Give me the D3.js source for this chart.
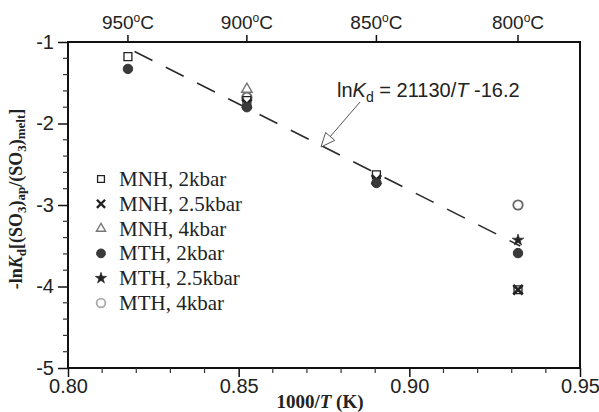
<!DOCTYPE html>
<html>
<head>
<meta charset="utf-8">
<script src="https://cdn.jsdelivr.net/npm/d3@7"></script>
<style>
  html, body { margin: 0; padding: 0; background: #fff; }
  svg { display: block; }
  .sans { font-family: Arial, "Liberation Sans", sans-serif; }
  .serif { font-family: "Times New Roman", "Liberation Serif", serif; }
</style>
</head>
<body>
<svg id="chart" width="599" height="412"></svg>
<script>
// Run temperatures (°C) and the -lnKd values measured at each one
const tempsC = [950, 900, 850, 800];
const seriesNames = ["MNH, 2kbar", "MNH, 2.5kbar", "MNH, 4kbar", "MTH, 2kbar", "MTH, 2.5kbar", "MTH, 4kbar"];
// values listed per series, aligned with tempsC (null = no run)
const mnh2kbar   = [-1.18, -1.72, -2.63, -4.04];
const mnh25kbar  = [null, -1.76, -2.69, -4.04];
const mnh4kbar   = [null, -1.58, null, null];
const mth2kbar   = [-1.33, -1.80, -2.73, -3.59];
const mth25kbar  = [null, null, null, -3.43];
const mth4kbar   = [null, -1.68, null, -3.00];
const seriesValues = [mnh2kbar, mnh25kbar, mnh4kbar, mth2kbar, mth25kbar, mth4kbar];

// Axis ticks
const xTicks = [0.80, 0.85, 0.90, 0.95];
const yTicks = [-5, -4, -3, -2, -1];

// Regression: lnKd = 21130/T - 16.2, drawn over the 1000/T span of the runs
const fitA = 21130, fitB = -16.2;
const fitSpan = [0.8195, 0.9325];

const svg = d3.select("#chart");
const x = d3.scaleLinear().domain([0.80, 0.95]).range([68, 580]);
const y = d3.scaleLinear().domain([-5, -1]).range([368, 42]);
const invT = c => 1000 / (c + 273.15);

// Dashed regression line
const fitPts = fitSpan.map(v => [v, -(fitA / (1000 / v) + fitB)]);
svg.append("path")
  .attr("d", d3.line().x(d => x(d[0])).y(d => y(d[1]))(fitPts))
  .attr("fill", "none").attr("stroke", "#2a2a2a").attr("stroke-width", 1.6)
  .attr("stroke-dasharray", "20,15");

// Marker styles for each series
const styles = [
  { sym: d3.symbolSquare2, size: 80, fill: "#fff", stroke: "#222", sw: 1.3 },
  { sym: d3.symbolTimes, size: 60, fill: "none", stroke: "#222", sw: 2.6 },
  { sym: d3.symbolTriangle2, size: 80, fill: "#fff", stroke: "#777", sw: 1.4 },
  { sym: d3.symbolCircle, size: 70, fill: "#3a3a3a", stroke: "#333", sw: 1 },
  { sym: d3.symbolStar, size: 42, fill: "#222", stroke: "#222", sw: 0.6 },
  { sym: d3.symbolCircle, size: 70, fill: "#fff", stroke: "#666", sw: 1.8 }
];

const plotOrder = [5, 2, 0, 1, 3, 4];
plotOrder.forEach(si => {
  const st = styles[si];
  const pts = tempsC.map((c, i) => ({ t: invT(c), v: seriesValues[si][i] })).filter(d => d.v !== null);
  svg.append("g").selectAll("path").data(pts).join("path")
    .attr("transform", d => `translate(${x(d.t)},${y(d.v)})`)
    .attr("d", d3.symbol(st.sym, st.size))
    .attr("fill", st.fill).attr("stroke", st.stroke).attr("stroke-width", st.sw);
});

// Frame
svg.append("rect").attr("x", 68).attr("y", 42).attr("width", 512).attr("height", 326)
  .attr("fill", "none").attr("stroke", "#111").attr("stroke-width", 2);

// Bottom axis
const gx = svg.append("g").attr("transform", "translate(0,368)")
  .call(d3.axisBottom(x).tickValues(xTicks).tickFormat(d3.format(".2f")).tickSize(9).tickPadding(2));
gx.select(".domain").remove();
gx.selectAll("line").attr("stroke", "#111").attr("stroke-width", 1.5);
gx.selectAll("text").attr("class", "sans").attr("font-size", 20).attr("fill", "#222");
const xMinor = d3.range(0.81, 0.95, 0.01).filter(v => !xTicks.some(t => Math.abs(t - v) < 1e-6));
svg.append("g").selectAll("line").data(xMinor).join("line")
  .attr("x1", d => x(d)).attr("x2", d => x(d)).attr("y1", 368).attr("y2", 373)
  .attr("stroke", "#333").attr("stroke-width", 1.2);

// Left axis
const gy = svg.append("g").attr("transform", "translate(68,0)")
  .call(d3.axisLeft(y).tickValues(yTicks).tickFormat(d => String(d).replace("\u2212", "-")).tickSize(10).tickPadding(4));
gy.select(".domain").remove();
gy.selectAll("line").attr("stroke", "#111").attr("stroke-width", 1.5);
gy.selectAll("text").attr("class", "sans").attr("font-size", 20).attr("fill", "#222");
const yMinor = d3.range(-4.8, -1, 0.2).filter(v => !yTicks.some(t => Math.abs(t - v) < 1e-6));
svg.append("g").selectAll("line").data(yMinor).join("line")
  .attr("x1", 63).attr("x2", 68).attr("y1", d => y(d)).attr("y2", d => y(d))
  .attr("stroke", "#333").attr("stroke-width", 1.2);

// Top temperature axis
const topG = svg.append("g");
tempsC.forEach(c => {
  const px = x(invT(c));
  topG.append("line").attr("x1", px).attr("x2", px).attr("y1", 42).attr("y2", 35)
    .attr("stroke", "#111").attr("stroke-width", 1.5);
  const t = topG.append("text").attr("class", "sans").attr("x", px).attr("y", 29)
    .attr("text-anchor", "middle").attr("font-size", 19).attr("fill", "#222");
  t.append("tspan").text(c);
  t.append("tspan").attr("font-size", 12).attr("dy", -7).text("o");
  t.append("tspan").attr("dy", 7).text("C");
});

// Axis titles
const xt = svg.append("text").attr("class", "serif").attr("x", 320).attr("y", 408)
  .attr("text-anchor", "middle").attr("font-size", 19).attr("font-weight", "bold").attr("fill", "#222");
xt.append("tspan").text("1000/");
xt.append("tspan").attr("font-style", "italic").text("T");
xt.append("tspan").text(" (K)");

const yt = svg.append("text").attr("class", "serif")
  .attr("transform", "translate(22,199) rotate(-90)")
  .attr("text-anchor", "middle").attr("font-size", 18).attr("font-weight", "bold").attr("fill", "#222");
yt.append("tspan").text("-ln");
yt.append("tspan").attr("font-style", "italic").text("K");
yt.append("tspan").attr("font-size", 13).attr("dy", 4).text("d");
yt.append("tspan").attr("dy", -4).text("[(SO");
yt.append("tspan").attr("font-size", 13).attr("dy", 4).text("3");
yt.append("tspan").attr("dy", -4).text(")");
yt.append("tspan").attr("font-size", 13).attr("dy", 3).text("ap");
yt.append("tspan").attr("dy", -3).text("/(SO");
yt.append("tspan").attr("font-size", 13).attr("dy", 4).text("3");
yt.append("tspan").attr("dy", -4).text(")");
yt.append("tspan").attr("font-size", 13).attr("dy", 3).text("melt");
yt.append("tspan").attr("dy", -3).text("]");

// Regression annotation with arrow
const ann = svg.append("text").attr("class", "sans").attr("x", 337).attr("y", 97)
  .attr("font-size", 20).attr("fill", "#222");
ann.append("tspan").text("ln");
ann.append("tspan").attr("font-style", "italic").text("K");
ann.append("tspan").attr("font-size", 14).attr("dy", 5).text("d");
ann.append("tspan").attr("dy", -5).text(" = 21130/");
ann.append("tspan").attr("font-style", "italic").text("T");
ann.append("tspan").text(" -16.2");

const tip = [321, 147], tail = [360, 102];
svg.append("line").attr("x1", tail[0]).attr("y1", tail[1]).attr("x2", 329).attr("y2", 138)
  .attr("stroke", "#555").attr("stroke-width", 1);
const ang = Math.atan2(tail[1] - tip[1], tail[0] - tip[0]);
const hl = 14, hw = 6;
const bx = tip[0] + hl * Math.cos(ang), by = tip[1] + hl * Math.sin(ang);
const head = [
  tip,
  [bx + hw * Math.sin(ang), by - hw * Math.cos(ang)],
  [bx - hw * Math.sin(ang), by + hw * Math.cos(ang)]
];
svg.append("path").attr("d", "M" + head.join("L") + "Z")
  .attr("fill", "#fff").attr("stroke", "#555").attr("stroke-width", 1);

// Legend
const legY = d3.scalePoint().domain(seriesNames).range([179, 303]);
const leg = svg.append("g");
seriesNames.forEach((name, i) => {
  const st = styles[i];
  const sz = i === 1 ? 45 : (i === 4 ? 40 : 60);
  leg.append("path").attr("transform", `translate(101,${legY(name)})`)
    .attr("d", d3.symbol(st.sym, sz))
    .attr("fill", st.fill).attr("stroke", i === 5 ? "#aaa" : st.stroke)
    .attr("stroke-width", i === 1 ? 2.4 : st.sw);
  leg.append("text").attr("class", "serif").attr("x", 119).attr("y", legY(name) + 7)
    .attr("font-size", 21).attr("fill", "#222").text(name);
});
</script>
</body>
</html>
